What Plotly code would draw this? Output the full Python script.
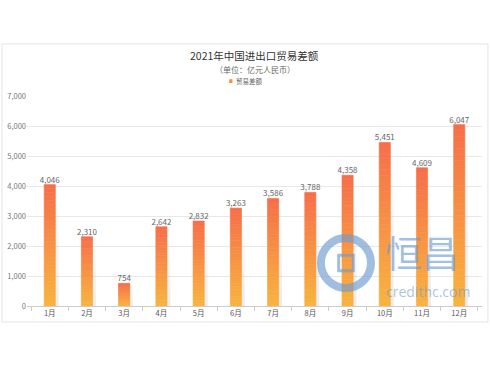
import plotly.graph_objects as go

months = ["1月", "2月", "3月", "4月", "5月", "6月", "7月", "8月", "9月", "10月", "11月", "12月"]
values = [4046, 2310, 754, 2642, 2832, 3263, 3586, 3788, 4358, 5451, 4609, 6047]
y_ticks = [0, 1000, 2000, 3000, 4000, 5000, 6000, 7000]
series_name = "贸易差额"
title_text = "2021年中国进出口贸易差额"
subtitle_text = "（单位：亿元人民币）"

FONT = "Noto Sans CJK SC"
top_rgb = (247, 110, 74)
bot_rgb = (248, 180, 62)
N = 30
NS = 10

fig = go.Figure()

# soft shadow to the right of each bar (fades toward its top)
for k in range(NS):
    a = 0.075 * (1 - k / NS) ** 0.7
    fig.add_trace(go.Bar(
        x=months, y=[v * 0.82 / NS for v in values], base=[v * 0.82 * k / NS for v in values],
        width=0.1, offset=0.14,
        marker=dict(color="rgba(0,0,0,%.3f)" % a, line=dict(width=0)),
        showlegend=False, hoverinfo="skip"))

# gradient bars built from stacked slices of each value
for k in range(N):
    t = (k + 0.5) / N
    c = "rgb(%d,%d,%d)" % tuple(round(bot_rgb[i] + (top_rgb[i] - bot_rgb[i]) * t) for i in range(3))
    fig.add_trace(go.Bar(
        x=months, y=[v / N for v in values], base=[v * k / N for v in values],
        width=0.3, offset=-0.15,
        marker=dict(color=c, line=dict(width=0.6, color=c)),
        name=series_name, showlegend=False, hoverinfo="skip"))

# value labels
fig.add_trace(go.Scatter(
    x=months, y=values, mode="text",
    text=[f"{v:,}" for v in values], textposition="top center",
    textfont=dict(family=FONT, size=8, color="#666"),
    showlegend=False, hoverinfo="skip"))

WM = "rgba(110,155,208,0.65)"
shapes = [
    dict(type="rect", xref="paper", yref="paper", x0=-0.055, x1=1.013, y0=-0.076, y1=1.248,
         line=dict(color="#e4e4e4", width=1), fillcolor="rgba(0,0,0,0)", layer="below"),
    # legend marker
    dict(type="rect", xref="paper", yref="paper", x0=0.4445, x1=0.4515, y0=1.062, y1=1.08,
         line=dict(width=0), fillcolor="rgb(247,140,60)"),
    # watermark
    dict(type="circle", xref="paper", yref="paper", x0=0.646, x1=0.756, y0=0.086, y1=0.324,
         line=dict(color=WM, width=8), layer="above"),
    dict(type="rect", xref="paper", yref="paper", x0=0.685, x1=0.717, y0=0.168, y1=0.242,
         line=dict(color=WM, width=3), fillcolor="rgba(0,0,0,0)", layer="above"),
]

annotations = [
    dict(text=title_text, xref="paper", yref="paper", x=0.5, y=1.195, showarrow=False,
         font=dict(family=FONT, size=10.5, color="#333"), xanchor="center", yanchor="middle"),
    dict(text=subtitle_text, xref="paper", yref="paper", x=0.5, y=1.128, showarrow=False,
         font=dict(family=FONT, size=8, color="#666"), xanchor="center", yanchor="middle"),
    dict(text=series_name, xref="paper", yref="paper", x=0.456, y=1.071, showarrow=False,
         font=dict(family=FONT, size=6.5, color="#666"), xanchor="left", yanchor="middle"),
    dict(text="恒昌", xref="paper", yref="paper", x=0.782, y=0.255, showarrow=False,
         font=dict(family=FONT, size=37, color=WM), xanchor="left", yanchor="middle"),
    dict(text="credithc.com", xref="paper", yref="paper", x=0.784, y=0.068, showarrow=False,
         font=dict(family="Open Sans", size=14, color="rgba(110,155,208,0.6)"),
         xanchor="left", yanchor="middle"),
]

fig.update_layout(
    width=490, height=368,
    margin=dict(l=27, r=8, t=96, b=62),
    paper_bgcolor="white", plot_bgcolor="white",
    barmode="overlay", showlegend=False,
    font=dict(family=FONT, size=8, color="#666"),
    xaxis=dict(type="category", showgrid=False, showline=True, linecolor="#ccc",
               ticks="outside", ticklen=4, tickcolor="#ccc", tickson="boundaries",
               tickfont=dict(family=FONT, size=7.5, color="#555"), fixedrange=True),
    yaxis=dict(range=[0, 7000], tickvals=y_ticks, tickformat=",", showgrid=True,
               gridcolor="#e8e8e8", zeroline=False, showline=False,
               tickfont=dict(family=FONT, size=7.5, color="#777"), ticks="", ticklen=0),
    shapes=shapes, annotations=annotations,
)

fig.write_html("out.html")
